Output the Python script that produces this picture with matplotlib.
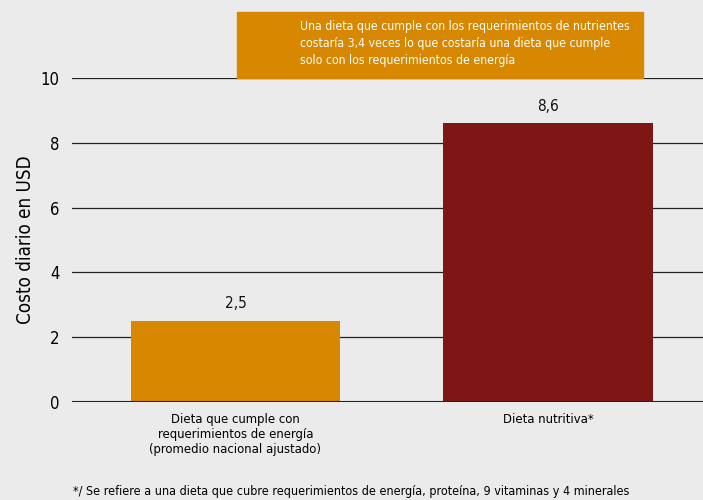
import matplotlib.pyplot as plt
import matplotlib.patches as mpatches

plt.rcParams['font.family'] = ['DejaVu Sans']
plt.rcParams['font.stretch'] = 'condensed'

categorias = ['Dieta que cumple con\nrequerimientos de energía\n(promedio nacional ajustado)',
              'Dieta nutritiva*']
costos = [2.5, 8.6]
etiquetas = ['2,5', '8,6']
colores = ['#d78700', '#7e1616']
yticks = [0, 2, 4, 6, 8, 10]

bg = '#ebebeb'
fig = plt.figure(figsize=(7.03, 5.0), dpi=100, facecolor=bg)
ax = fig.add_axes([0.1024, 0.196, 0.8976, 0.648], facecolor=bg)

x = range(len(costos))
ax.bar(x, costos, width=0.669, color=colores, zorder=2)
for xi, v, lab in zip(x, costos, etiquetas):
    ax.text(xi, v + 0.3, lab, ha='center', va='bottom', fontsize=11, color='#111111')

ax.set_xlim(-0.523, 1.496)
ax.set_ylim(0, 10)
ax.set_yticks(yticks)
ax.set_yticklabels([str(t) for t in yticks], fontsize=12)
ax.set_xticks(list(x))
ax.set_xticklabels(categorias, fontsize=9.4, linespacing=1.2)
ax.tick_params(axis='y', length=0, pad=9)
ax.tick_params(axis='x', length=0, pad=8)
for t in yticks[1:]:
    ax.axhline(t, color='#222222', lw=0.9, zorder=1)
ax.axhline(0, color='#222222', lw=1.5, zorder=3)
for s in ax.spines.values():
    s.set_visible(False)
ax.set_ylabel('Costo diario en USD', fontsize=13.5, labelpad=4)

# recuadro de título
fig.patches.append(mpatches.Rectangle((237 / 703, 1 - 78 / 500), (643 - 237) / 703, 66 / 500,
                                      transform=fig.transFigure, color='#d78700', zorder=0))
fig.text(300 / 703, 1 - 20 / 500,
         'Una dieta que cumple con los requerimientos de nutrientes\n'
         'costaría 3,4 veces lo que costaría una dieta que cumple\n'
         'solo con los requerimientos de energía',
         color='white', fontsize=8.8, ha='left', va='top', linespacing=1.4)

fig.text(0.5, 1 - 492 / 500,
         '*/ Se refiere a una dieta que cubre requerimientos de energía, proteína, 9 vitaminas y 4 minerales',
         ha='center', va='center', fontsize=9)

fig.savefig('out.png', dpi=100, facecolor=bg)
